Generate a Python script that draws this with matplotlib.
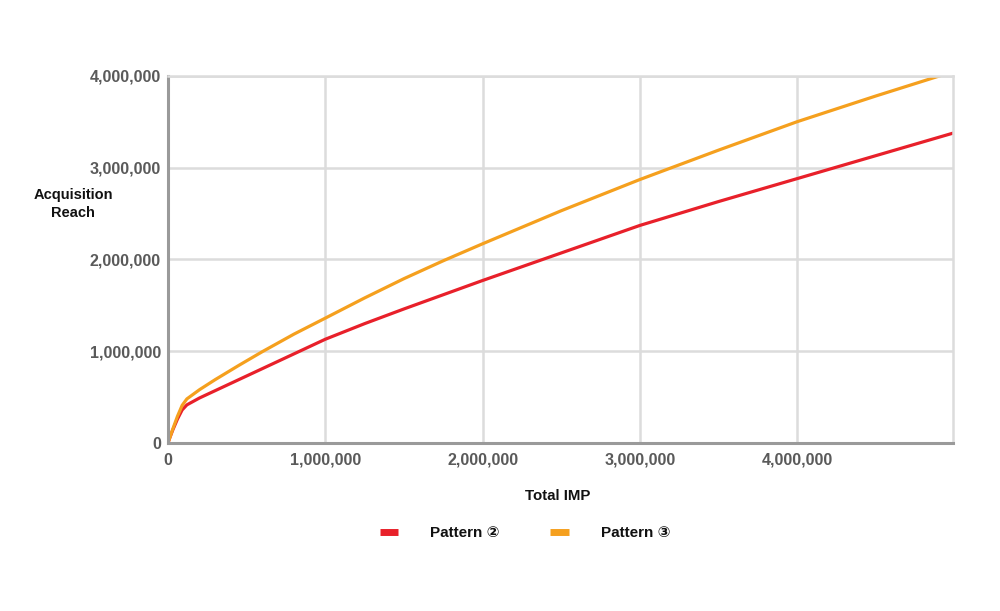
import matplotlib
matplotlib.use("Agg")
import matplotlib.pyplot as plt
from matplotlib.lines import Line2D
from matplotlib.ticker import FuncFormatter

plt.rcParams['font.family'] = ['Liberation Sans', 'DejaVu Sans']

# Data (impressions -> acquisition reach)
total_imp = [0, 10000, 30000, 60000, 90000, 120000, 200000, 300000, 450000, 600000,
             800000, 1000000, 1250000, 1500000, 1750000, 2000000, 2500000, 3000000,
             3500000, 4000000, 4500000, 5000000]
pattern2 = [0, 50000, 140000, 260000, 360000, 415000, 490000, 570000, 690000, 810000,
            970000, 1130000, 1300000, 1460000, 1615000, 1770000, 2070000, 2370000,
            2630000, 2880000, 3130000, 3380000]
pattern3 = [0, 50000, 150000, 290000, 410000, 480000, 580000, 690000, 845000, 995000,
            1185000, 1360000, 1580000, 1790000, 1985000, 2170000, 2530000, 2870000,
            3190000, 3500000, 3780000, 4050000]

x_ticks = [0, 1000000, 2000000, 3000000, 4000000]
y_ticks = [0, 1000000, 2000000, 3000000, 4000000]

red = '#e8202a'
orange = '#f5a01e'

fig = plt.figure(figsize=(10, 6.11), dpi=100)
ax = fig.add_axes([0.168, 0.275, 0.785, 0.601])

ax.plot(total_imp, pattern2, color=red, lw=2.3, solid_capstyle='round', solid_joinstyle='round')
ax.plot(total_imp, pattern3, color=orange, lw=2.3, solid_capstyle='round', solid_joinstyle='round')

ax.set_xlim(0, 4990000)
ax.set_ylim(0, 4000000)
ax.set_xticks(x_ticks)
ax.set_yticks(y_ticks)
fmt = FuncFormatter(lambda v, p: f"{int(v):,}")
ax.xaxis.set_major_formatter(fmt)
ax.yaxis.set_major_formatter(fmt)

ax.grid(True, color='#dcdcdc', lw=1.8)
ax.set_axisbelow(True)
for s in ['top', 'right']:
    ax.spines[s].set_color('#dcdcdc')
    ax.spines[s].set_linewidth(1.8)
for s in ['left', 'bottom']:
    ax.spines[s].set_color('#9a9a9a')
    ax.spines[s].set_linewidth(2.2)
ax.tick_params(length=0, labelsize=11.6, labelcolor='#5a5a5a')
ax.tick_params(axis='y', pad=5)
ax.tick_params(axis='x', pad=7)
for lbl in ax.get_xticklabels() + ax.get_yticklabels():
    lbl.set_fontweight('bold')

fig.text(0.073, 0.666, "Acquisition\nReach", ha='center', va='center',
         fontsize=10.5, fontweight='bold', color='#111111', linespacing=1.3)
fig.text(0.558, 0.188, "Total IMP", ha='center', va='center',
         fontsize=10.8, fontweight='bold', color='#111111')

handles = [Line2D([], [], color=red, lw=5, solid_capstyle='butt'),
           Line2D([], [], color=orange, lw=5, solid_capstyle='butt')]
fig.legend(handles, ["Pattern ②", "Pattern ③"], loc='center',
           bbox_to_anchor=(0.525, 0.127), ncol=2, frameon=False,
           handlelength=1.2, handletextpad=2.1, columnspacing=3.3,
           prop={'size': 11, 'weight': 'bold'}, labelcolor='#111111')

fig.savefig("out.png", dpi=100, facecolor='white')
